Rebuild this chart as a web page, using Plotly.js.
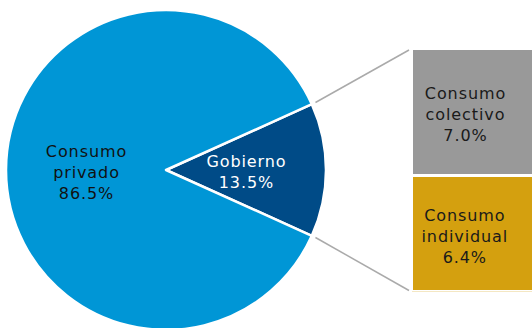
<!DOCTYPE html>
<html>
<head>
<meta charset="utf-8">
<script src="https://cdn.plot.ly/plotly-3.0.1.min.js"></script>
<style>
html,body{margin:0;padding:0;overflow:hidden;background:#fff;}
#chart{width:560px;height:340px;}
#chart .annotation-text{letter-spacing:0.9px;}
</style>
</head>
<body>
<div id="chart"></div>
<script>
// ---- data ----
var pieLabels = ["Gobierno", "Consumo<br>privado"];
var pieValues = [13.5, 86.5];
var pieColors = ["#004B87", "#0096D6"];
var pieTextColors = ["#FFFFFF", "#111111"];

var barLabels = ["Consumo<br>individual", "Consumo<br>colectivo"];
var barValues = [6.4, 7.0];
var barColors = ["#D4A00F", "#999999"];

// ---- geometry (pixels in a W x H layout) ----
var W = 560, H = 340;
var cx = 166, cy = 170, R = 160;
var barLeft = 411.5, barTop = 48.5, barBottom = 291.5;
var textX = 465;

function px(x){ return x / W; }
function py(y){ return 1 - y / H; }

var govFrac = pieValues[0] / (pieValues[0] + pieValues[1]);
var half = govFrac * 180; // degrees
var total = barValues[0] + barValues[1];

var traces = [
  {
    type: "pie",
    labels: pieLabels,
    values: pieValues,
    sort: false,
    direction: "clockwise",
    rotation: 90 - half,
    marker: {colors: pieColors, line: {color: "#FFFFFF", width: 2.5}},
    textinfo: "none",
    domain: {x: [px(cx - R), px(cx + R)], y: [py(cy + R), py(cy - R)]},
    showlegend: false,
    hoverinfo: "label+percent"
  }
];

for (var i = 0; i < barValues.length; i++) {
  traces.push({
    type: "bar",
    x: [0],
    y: [barValues[i]],
    width: [1],
    name: barLabels[i],
    marker: {color: barColors[i], line: {color: "#FFFFFF", width: 3}},
    showlegend: false,
    hoverinfo: "name+y"
  });
}

var annotations = [];
// pie labels: placed at mid-angle of each slice, half radius out
var sumPie = pieValues[0] + pieValues[1];
var startDeg = 90 - half; // clockwise from 12 o'clock
var acc = 0;
for (var k = 0; k < pieValues.length; k++) {
  var mid = startDeg + (acc + pieValues[k] / 2) / sumPie * 360;
  var mr = mid * Math.PI / 180;
  var lx = cx + 0.5 * R * Math.sin(mr);
  var ly = cy - 0.5 * R * Math.cos(mr) + 2;
  annotations.push({
    xref: "paper", yref: "paper",
    x: px(lx), y: py(ly),
    text: pieLabels[k] + "<br>" + pieValues[k].toFixed(1) + "%",
    showarrow: false,
    xanchor: "center", yanchor: "middle",
    font: {family: "DejaVu Sans", size: 16, color: pieTextColors[k]}
  });
  acc += pieValues[k];
}

var cum = 0;
for (var j = 0; j < barValues.length; j++) {
  annotations.push({
    xref: "paper", yref: "y",
    x: px(textX), y: cum + barValues[j] / 2,
    yshift: -3,
    text: barLabels[j] + "<br>" + barValues[j].toFixed(1) + "%",
    showarrow: false,
    xanchor: "center", yanchor: "middle",
    font: {family: "DejaVu Sans", size: 16, color: "#1A1A1A"}
  });
  cum += barValues[j];
}

var a = half * Math.PI / 180;
var rs = R * 1.025;
var sx = cx + rs * Math.cos(a);
var syTop = cy - rs * Math.sin(a);
var syBot = cy + rs * Math.sin(a);
var ex = 409;

var shapes = [
  {type: "line", xref: "paper", yref: "paper", x0: px(sx), y0: py(syTop), x1: px(ex), y1: py(barTop + 1.5),
   line: {color: "#AAAAAA", width: 1.5}},
  {type: "line", xref: "paper", yref: "paper", x0: px(sx), y0: py(syBot), x1: px(ex), y1: py(barBottom - 1),
   line: {color: "#AAAAAA", width: 1.5}}
];

var layout = {
  width: W, height: H,
  margin: {l: 0, r: 0, t: 0, b: 0},
  paper_bgcolor: "#FFFFFF",
  plot_bgcolor: "rgba(0,0,0,0)",
  barmode: "stack",
  xaxis: {domain: [px(barLeft), 1], range: [-0.5, 0.5], visible: false, fixedrange: true},
  yaxis: {domain: [py(barBottom), py(barTop)], range: [0, total], visible: false, fixedrange: true},
  annotations: annotations,
  shapes: shapes,
  font: {family: "DejaVu Sans"}
};

Plotly.newPlot("chart", traces, layout, {displayModeBar: false, staticPlot: true});
</script>
</body>
</html>
